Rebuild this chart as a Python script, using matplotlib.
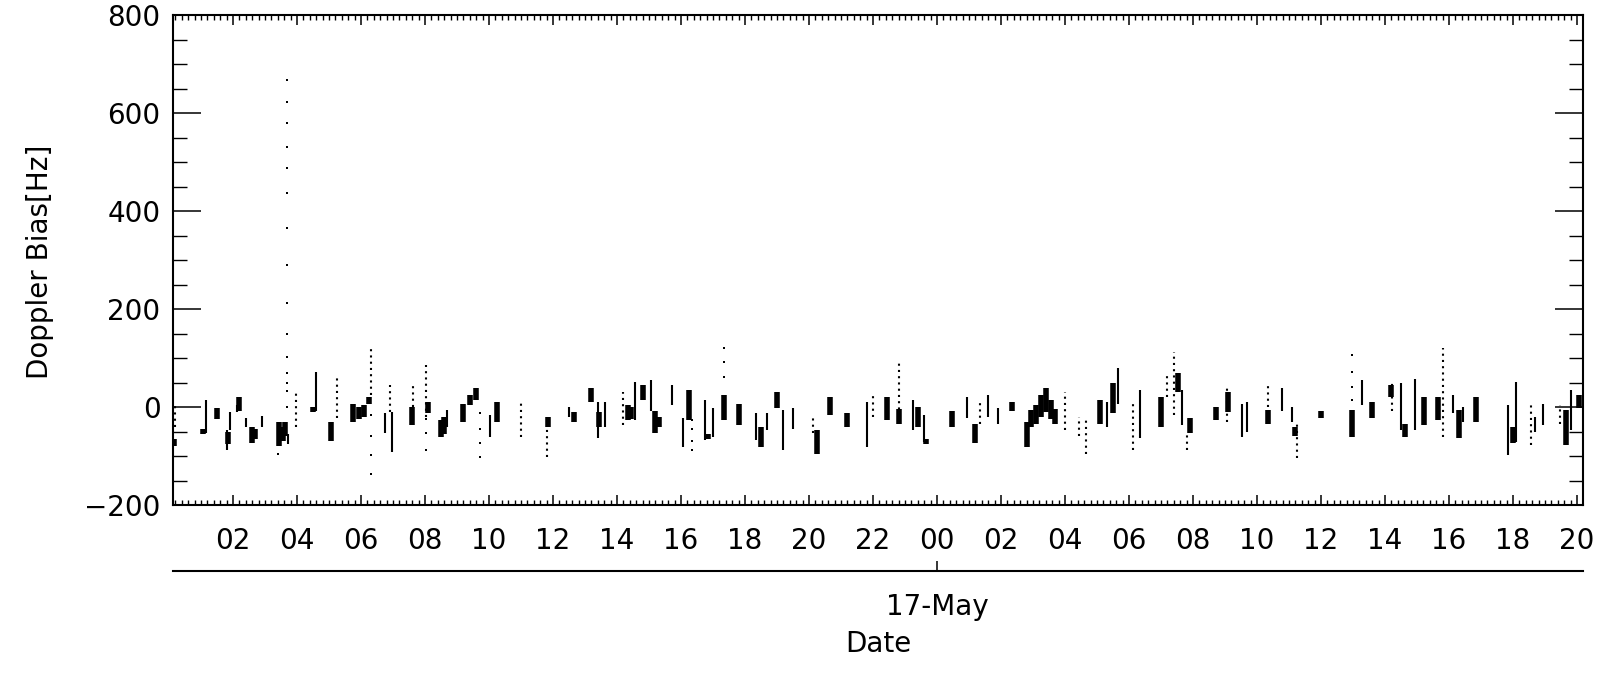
import matplotlib
matplotlib.use("Agg")
import matplotlib.pyplot as plt
from matplotlib.ticker import MultipleLocator, FixedLocator, FuncFormatter

plt.rcParams['font.family'] = ['DejaVu Sans']

# ---- data (time in hours since 16-May 00:00, Doppler bias in Hz) ----
# solid thin vertical runs of samples
solid_t  = [1.16, 1.90, 1.80, 2.12, 2.42, 2.90, 3.72, 4.60, 6.75, 6.96, 8.68, 10.03, 12.50, 13.42,
            13.63, 14.56, 15.05, 15.71, 16.07, 16.75, 17.01, 18.36, 18.68, 19.20, 19.51, 21.80,
            23.26, 23.60, 24.93, 25.60, 25.92, 29.30, 29.67, 30.34, 31.65, 33.52, 33.68, 34.77,
            35.10, 37.29, 38.50, 38.94, 40.13, 40.45, 41.85, 42.11, 42.70, 42.95, 43.81]
solid_lo = [-54, -47, -88, -10, -40, -40, -75, -9, -54, -91, -40, -61, -20, -64,
            -40, -27, -9, 4, -81, -68, -61, -67, -47, -88, -44, -81,
            -47, -71, -23, -20, -34, -40, 7, -64, -37, -61, -51, -9,
            -30, 4, -47, -47, -13, -30, -98, -71, -50, -37, -47]
solid_hi = [14, -10, -47, 5, -23, -18, -55, 72, -13, -10, -6, -16, 1, 11,
            11, 52, 55, 45, -23, 14, -3, -13, -13, -6, -3, 11,
            14, -16, 21, 24, -3, 10, 79, 35, 35, 7, 11, 38,
            1, 55, 48, 58, 24, 0, 4, 52, -20, 7, 35]

# dense clusters of samples
blob_t  = [0.17, 1.05, 1.50, 1.85, 2.18, 2.60, 2.70, 3.45, 3.55, 3.62, 4.50, 5.05, 5.75, 5.95,
           6.10, 6.25, 7.60, 8.10, 8.50, 8.58, 9.20, 9.40, 9.60, 10.24, 11.85, 12.65, 13.20,
           13.45, 14.35, 14.45, 14.80, 15.20, 15.30, 16.25, 16.85, 17.35, 17.81, 18.50, 18.99,
           20.25, 20.65, 21.18, 22.43, 22.81, 23.40, 23.65, 24.48, 25.19, 26.33, 26.80, 26.95,
           27.10, 27.25, 27.40, 27.55, 27.70, 29.10, 29.50, 31.00, 31.52, 31.90, 32.72, 33.10,
           34.35, 35.20, 36.00, 36.98, 37.60, 38.20, 38.62, 39.23, 39.67, 40.31, 40.86, 42.00,
           43.65, 44.05]
blob_lo = [-80, -55, -25, -75, -9, -74, -65, -80, -70, -60, -10, -70, -30, -25,
           -20, 7, -36, -13, -61, -55, -30, 5, 14, -30, -40, -30, 11,
           -40, -27, -25, 14, -54, -40, -27, -65, -27, -37, -81, -2,
           -95, -16, -40, -27, -34, -40, -75, -40, -74, -9, -81, -40,
           -34, -20, -10, -25, -34, -34, -13, -40, 30, -54, -27, -10,
           -34, -60, -23, -61, -23, 20, -61, -37, -27, -64, -30, -74,
           -78, -2]
blob_hi = [-65, -45, -3, -50, 21, -40, -45, -30, -40, -30, 0, -30, 7, 0,
           5, 21, 1, 11, -27, -20, 7, 25, 38, 11, -20, -10, 38,
           -10, 5, 0, 45, -9, -20, 35, -55, 24, 7, -40, 31,
           -47, 21, -13, 21, -5, 1, -65, -9, -34, 11, -30, -6,
           5, 25, 38, 15, -5, 14, 48, 21, 70, -23, 1, 30,
           -6, -40, -9, -6, 11, 45, -34, 21, 21, -6, 21, -40,
           -6, 24]

# sparse (dotted) runs of samples
dotted_t  = [0.19, 3.97, 5.25, 6.31, 6.92, 7.63, 8.02, 10.99, 11.80, 14.20, 20.13, 22.00, 22.81,
             25.34, 28.00, 28.45, 28.65, 30.13, 31.18, 31.42, 31.80, 33.05, 34.35, 35.25, 38.21,
             39.82, 42.58, 43.47]
dotted_lo = [-40, -40, -23, 25, -10, 1, -20, -61, -102, -37, -54, -20, -30,
             -34, -47, -60, -95, -88, 21, -16, -88, -30, 1, -105, -9,
             -61, -78, -34]
dotted_hi = [10, 28, 59, 126, 45, 45, 86, 11, -40, 31, -16, 31, 93,
             11, 31, -20, -20, 7, 65, 113, -54, 45, 45, -30, 52,
             120, 11, 4]

# isolated samples
spike_t = 3.68
spike_v = [667, 623, 580, 531, 487, 436, 365, 290, 212, 150, 103, 69, 48, 33, 1]
dot_t = [3.40, 6.31, 6.31, 6.31, 6.31, 8.02, 8.02, 8.02, 9.72, 9.72, 9.72, 9.72,
         16.33, 16.33, 16.33, 16.33, 17.35, 17.35, 17.35, 36.96, 36.96, 36.96, 36.96]
dot_v = [-95, -16, -59, -98, -137, -25, -54, -88, -13, -44, -73, -102,
         -27, -45, -70, -88, 120, 91, 62, 106, 72, 41, 14]

x_range = (0.125, 44.19)
y_range = (-200, 800)
x_major = list(range(2, 45, 2))
date_tick = [24]
date_label = ['17-May']

# ---- figure ----
W, H = 1605, 675
fig = plt.figure(figsize=(W / 100, H / 100), dpi=100)
L, R, T, B = 173, 1583, 15, 505
ax = fig.add_axes([L / W, 1 - B / H, (R - L) / W, (B - T) / H])

ax.vlines(solid_t, solid_lo, solid_hi, colors='k', linewidth=1.5, capstyle='butt')
ax.vlines(blob_t, blob_lo, blob_hi, colors='k', linewidth=4.0, capstyle='butt')
ax.vlines(dotted_t, dotted_lo, dotted_hi, colors='k', linewidth=1.5,
          linestyles=[(0, (1, 2))], capstyle='butt')
ax.scatter([spike_t] * len(spike_v), spike_v, s=3, marker='s', c='k', linewidths=0)
ax.scatter(dot_t, dot_v, s=3, marker='s', c='k', linewidths=0)

ax.set_xlim(*x_range)
ax.set_ylim(*y_range)
ax.xaxis.set_major_locator(FixedLocator(x_major))
ax.xaxis.set_major_formatter(FuncFormatter(lambda v, p: f"{int(round(v)) % 24:02d}"))
ax.xaxis.set_minor_locator(MultipleLocator(0.2))
ax.yaxis.set_major_locator(MultipleLocator(200))
ax.yaxis.set_minor_locator(MultipleLocator(50))

for s in ax.spines.values():
    s.set_linewidth(1.5)

ax.tick_params(axis='x', which='major', direction='in', length=7.2, width=1.1,
               top=True, bottom=True, labelsize=20, pad=16)
ax.tick_params(axis='x', which='minor', direction='in', length=3.6, width=1.0,
               top=True, bottom=True)
ax.tick_params(axis='y', which='major', direction='in', length=20, width=1.1,
               left=True, right=True, labelsize=20, pad=9)
ax.tick_params(axis='y', which='minor', direction='in', length=10, width=1.0,
               left=True, right=True)

fig.text(40 / W, 1 - 262 / H, 'Doppler Bias[Hz]', rotation=90, ha='center', va='center',
         fontsize=20)

# secondary date axis
ax2 = fig.add_axes([L / W, 1 - 571 / H, (R - L) / W, 1e-5])
ax2.set_xlim(*x_range)
for k in ('top', 'left', 'right'):
    ax2.spines[k].set_visible(False)
ax2.spines['bottom'].set_linewidth(1.5)
ax2.set_yticks([])
ax2.set_xticks(date_tick)
ax2.set_xticklabels(date_label)
ax2.tick_params(axis='x', direction='in', length=7.2, width=1.1, labelsize=20, pad=16)
ax2.patch.set_visible(False)

fig.text((L + R) / 2 / W, 1 - 644 / H, 'Date', ha='center', va='center', fontsize=20)

fig.savefig('out.png', dpi=100)
